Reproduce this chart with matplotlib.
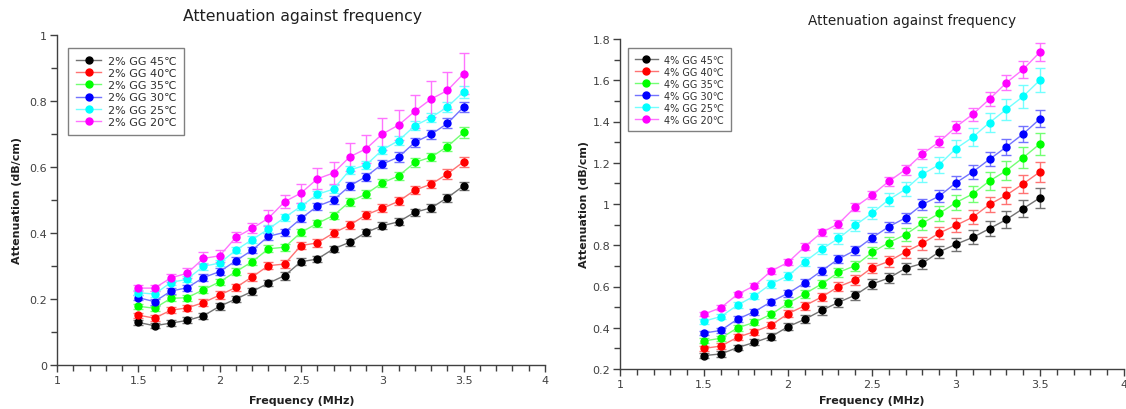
import numpy as np
import matplotlib
matplotlib.use('Agg')
import matplotlib.pyplot as plt
from matplotlib.ticker import MultipleLocator, FuncFormatter
from matplotlib.colors import to_rgb

freq = [1.5, 1.6, 1.7, 1.8, 1.9, 2.0, 2.1, 2.2, 2.3, 2.4, 2.5,
        2.6, 2.7, 2.8, 2.9, 3.0, 3.1, 3.2, 3.3, 3.4, 3.5]
temps = ['45', '40', '35', '30', '25', '20']
colors = ['#000000', '#ff0000', '#00ff00', '#0000ff', '#00ffff', '#ff00ff']

# 2% GG
gg2_45 = [0.129, 0.119, 0.127, 0.135, 0.149, 0.178, 0.200, 0.223, 0.248, 0.271, 0.313,
          0.321, 0.352, 0.372, 0.402, 0.422, 0.434, 0.463, 0.476, 0.507, 0.543]
gg2_40 = [0.151, 0.142, 0.166, 0.173, 0.189, 0.212, 0.235, 0.267, 0.301, 0.306, 0.362,
          0.370, 0.400, 0.424, 0.455, 0.475, 0.496, 0.530, 0.548, 0.579, 0.616]
gg2_35 = [0.178, 0.172, 0.202, 0.204, 0.228, 0.252, 0.283, 0.313, 0.352, 0.357, 0.402,
          0.429, 0.453, 0.495, 0.518, 0.552, 0.573, 0.614, 0.630, 0.662, 0.705]
gg2_30 = [0.204, 0.192, 0.224, 0.234, 0.265, 0.283, 0.316, 0.348, 0.390, 0.402, 0.444,
          0.481, 0.500, 0.543, 0.571, 0.609, 0.630, 0.675, 0.699, 0.732, 0.782]
gg2_25 = [0.219, 0.215, 0.250, 0.260, 0.299, 0.309, 0.348, 0.380, 0.412, 0.447, 0.481,
          0.517, 0.533, 0.591, 0.606, 0.652, 0.680, 0.725, 0.750, 0.782, 0.828]
gg2_20 = [0.233, 0.233, 0.264, 0.278, 0.323, 0.331, 0.387, 0.414, 0.445, 0.495, 0.521,
          0.564, 0.582, 0.631, 0.655, 0.700, 0.727, 0.769, 0.806, 0.832, 0.883]

err2_45 = [0.008, 0.008, 0.008, 0.009, 0.009, 0.010, 0.010, 0.010, 0.010, 0.012, 0.010,
           0.010, 0.010, 0.010, 0.010, 0.010, 0.010, 0.011, 0.012, 0.012, 0.012]
err2_40 = [0.008, 0.009, 0.009, 0.010, 0.010, 0.011, 0.011, 0.011, 0.011, 0.011, 0.011,
           0.011, 0.011, 0.012, 0.012, 0.012, 0.012, 0.013, 0.013, 0.014, 0.015]
err2_35 = [0.008, 0.008, 0.009, 0.009, 0.010, 0.010, 0.010, 0.011, 0.011, 0.011, 0.011,
           0.011, 0.012, 0.012, 0.012, 0.012, 0.012, 0.013, 0.013, 0.014, 0.016]
err2_30 = [0.008, 0.009, 0.009, 0.009, 0.010, 0.010, 0.010, 0.010, 0.011, 0.011, 0.011,
           0.011, 0.012, 0.012, 0.012, 0.013, 0.014, 0.014, 0.014, 0.015, 0.016]
err2_25 = [0.008, 0.008, 0.009, 0.009, 0.010, 0.010, 0.010, 0.010, 0.011, 0.011, 0.011,
           0.011, 0.012, 0.012, 0.012, 0.012, 0.013, 0.013, 0.014, 0.016, 0.018]
err2_20 = [0.010, 0.009, 0.012, 0.015, 0.018, 0.018, 0.015, 0.015, 0.024, 0.020, 0.029,
           0.032, 0.034, 0.043, 0.043, 0.047, 0.046, 0.050, 0.054, 0.057, 0.063]

# 4% GG
gg4_45 = [0.265, 0.273, 0.304, 0.329, 0.357, 0.405, 0.441, 0.484, 0.523, 0.558, 0.612,
          0.641, 0.688, 0.712, 0.768, 0.805, 0.838, 0.881, 0.925, 0.978, 1.030]
gg4_40 = [0.300, 0.311, 0.354, 0.381, 0.413, 0.468, 0.507, 0.549, 0.599, 0.631, 0.691,
          0.722, 0.768, 0.809, 0.859, 0.897, 0.936, 0.998, 1.043, 1.098, 1.156]
gg4_35 = [0.336, 0.349, 0.400, 0.426, 0.466, 0.518, 0.565, 0.612, 0.668, 0.701, 0.765,
          0.813, 0.852, 0.907, 0.954, 1.007, 1.049, 1.112, 1.162, 1.225, 1.292]
gg4_30 = [0.374, 0.387, 0.442, 0.478, 0.526, 0.567, 0.618, 0.676, 0.733, 0.776, 0.836,
          0.890, 0.933, 0.998, 1.038, 1.103, 1.156, 1.217, 1.277, 1.340, 1.413]
gg4_25 = [0.432, 0.454, 0.510, 0.554, 0.613, 0.652, 0.720, 0.781, 0.833, 0.897, 0.955,
          1.021, 1.072, 1.144, 1.191, 1.269, 1.324, 1.395, 1.459, 1.522, 1.601]
gg4_20 = [0.466, 0.497, 0.562, 0.604, 0.675, 0.717, 0.793, 0.862, 0.904, 0.985, 1.043,
          1.110, 1.167, 1.243, 1.301, 1.374, 1.435, 1.509, 1.588, 1.653, 1.737]

err4_45 = [0.012, 0.013, 0.014, 0.015, 0.016, 0.018, 0.019, 0.020, 0.021, 0.022, 0.024,
           0.025, 0.027, 0.028, 0.030, 0.032, 0.034, 0.036, 0.040, 0.043, 0.048]
err4_40 = [0.012, 0.013, 0.014, 0.015, 0.016, 0.018, 0.019, 0.020, 0.022, 0.023, 0.025,
           0.026, 0.028, 0.030, 0.031, 0.033, 0.035, 0.038, 0.041, 0.044, 0.048]
err4_35 = [0.012, 0.013, 0.014, 0.015, 0.017, 0.018, 0.020, 0.021, 0.023, 0.024, 0.026,
           0.028, 0.030, 0.032, 0.034, 0.036, 0.039, 0.042, 0.045, 0.049, 0.053]
err4_30 = [0.011, 0.012, 0.013, 0.014, 0.015, 0.016, 0.017, 0.018, 0.019, 0.021, 0.022,
           0.024, 0.025, 0.027, 0.029, 0.031, 0.033, 0.035, 0.037, 0.040, 0.042]
err4_25 = [0.012, 0.013, 0.015, 0.016, 0.018, 0.019, 0.021, 0.023, 0.025, 0.027, 0.029,
           0.031, 0.034, 0.036, 0.039, 0.041, 0.044, 0.048, 0.051, 0.055, 0.060]
err4_20 = [0.010, 0.011, 0.012, 0.013, 0.014, 0.015, 0.016, 0.017, 0.018, 0.020, 0.021,
           0.022, 0.024, 0.025, 0.027, 0.029, 0.031, 0.033, 0.036, 0.040, 0.044]

series2 = [gg2_45, gg2_40, gg2_35, gg2_30, gg2_25, gg2_20]
errors2 = [err2_45, err2_40, err2_35, err2_30, err2_25, err2_20]
series4 = [gg4_45, gg4_40, gg4_35, gg4_30, gg4_25, gg4_20]
errors4 = [err4_45, err4_40, err4_35, err4_30, err4_25, err4_20]


def lighten(c, amount=0.45):
    r, g, b = to_rgb(c)
    return (r + (1 - r) * amount, g + (1 - g) * amount, b + (1 - b) * amount)


def fmt_num(v, pos):
    return '%g' % round(v, 3)


def draw_panel(ax, series, errors, conc, ymin, ymax, legend_anchor,
               leg_size, leg_handle, leg_spacing):
    for vals, errs, c, t in zip(series, errors, colors, temps):
        lc = lighten(c)
        ax.errorbar(freq, vals, yerr=errs, fmt='none', ecolor=lc,
                    elinewidth=1.0, capsize=3.5, capthick=1.0, zorder=2)
        ax.plot(freq, vals, '-o', color=lc, lw=1.0, markersize=5,
                markerfacecolor=c, markeredgecolor=c, zorder=3,
                label='%s%% GG %s\u2103' % (conc, t))
    ax.set_xlim(1, 4)
    ax.set_ylim(ymin, ymax)
    ax.xaxis.set_major_locator(MultipleLocator(0.5))
    ax.xaxis.set_minor_locator(MultipleLocator(0.1))
    ax.yaxis.set_major_locator(MultipleLocator(0.2))
    ax.yaxis.set_minor_locator(MultipleLocator(0.1))
    ax.xaxis.set_major_formatter(FuncFormatter(fmt_num))
    ax.yaxis.set_major_formatter(FuncFormatter(fmt_num))
    for s in ['top', 'right']:
        ax.spines[s].set_visible(False)
    for s in ['left', 'bottom']:
        ax.spines[s].set_color('#404040')
        ax.spines[s].set_linewidth(1.0)
    ax.tick_params(which='major', direction='out', length=5, width=1,
                   color='#404040', labelsize=8, labelcolor='#404040', pad=2)
    ax.tick_params(which='minor', direction='out', length=4, width=1,
                   color='#404040')
    leg = ax.legend(loc='upper left', bbox_to_anchor=legend_anchor,
                    bbox_transform=ax.figure.transFigure, fontsize=leg_size,
                    frameon=True, fancybox=False, handlelength=leg_handle,
                    labelspacing=leg_spacing, borderpad=0.7, handletextpad=0.6,
                    borderaxespad=0)
    leg.get_frame().set_edgecolor('#606060')
    leg.get_frame().set_linewidth(1.0)
    for txt in leg.get_texts():
        txt.set_color('#303030')


fig = plt.figure(figsize=(11.26, 4.10), dpi=100)
ax1 = fig.add_axes([57 / 1126, 44 / 410, 488 / 1126, 330 / 410])
ax2 = fig.add_axes([620 / 1126, 40 / 410, 504 / 1126, 330 / 410])

draw_panel(ax1, series2, errors2, '2', 0, 1, (68 / 1126, 1 - 49 / 410),
           8, 2.3, 0.2)
draw_panel(ax2, series4, errors4, '4', 0.2, 1.8, (628 / 1126, 1 - 49 / 410),
           7, 2.4, 0.2)

fig.text(303 / 1126, 1 - 17 / 410, 'Attenuation against frequency',
         ha='center', va='center', fontsize=11.3, color='#202020')
fig.text(912 / 1126, 1 - 21 / 410, 'Attenuation against frequency',
         ha='center', va='center', fontsize=9.8, color='#202020')
fig.text(302 / 1126, 1 - 401 / 410, 'Frequency (MHz)', ha='center',
         va='center', fontsize=8, fontweight='bold', color='#202020')
fig.text(872 / 1126, 1 - 401 / 410, 'Frequency (MHz)', ha='center',
         va='center', fontsize=8, fontweight='bold', color='#202020')
fig.text(17 / 1126, 1 - 200 / 410, 'Attenuation (dB/cm)', ha='center',
         va='center', rotation=90, fontsize=8, fontweight='bold', color='#202020')
fig.text(584 / 1126, 1 - 205 / 410, 'Attenuation (dB/cm)', ha='center',
         va='center', rotation=90, fontsize=8, fontweight='bold', color='#202020')

fig.savefig('out.png', dpi=100)
